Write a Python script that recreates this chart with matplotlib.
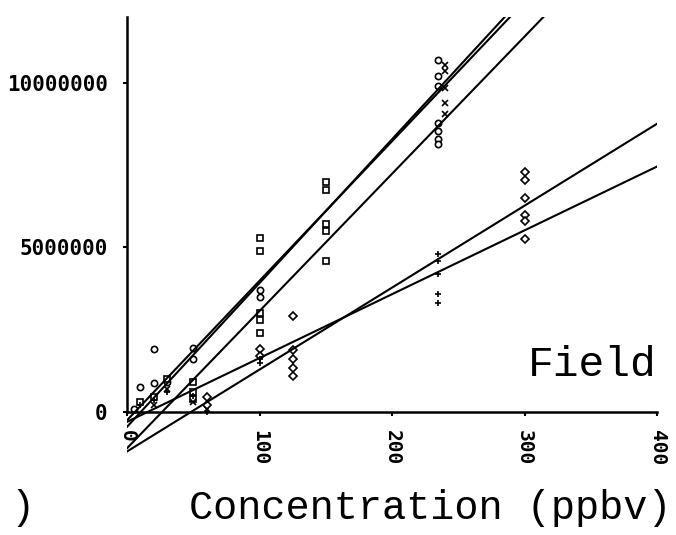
import matplotlib
matplotlib.use('Agg')
import matplotlib.pyplot as plt
import numpy as np

# data (y in counts)
x_circ = [5, 10, 20, 20, 30, 50, 50, 100, 100, 235, 235, 235, 235, 235, 235, 235]
y_circ = [0.1, 0.75, 0.87, 1.9, 0.9, 1.95, 1.6, 3.7, 3.5,
          10.7, 10.2, 9.9, 8.78, 8.54, 8.3, 8.15]

x_sq = [10, 20, 30, 50, 50, 50, 100, 100, 100, 100, 100, 150, 150, 150, 150, 150]
y_sq = [0.3, 0.45, 1.0, 0.9, 0.6, 0.4, 5.3, 4.9, 3.0, 2.8, 2.4, 7.0, 6.75, 5.7, 5.5, 4.6]

x_x = [20, 30, 50, 60, 240, 240, 240, 240, 240]
y_x = [0.2, 0.7, 0.3, 0.1, 10.55, 10.35, 9.85, 9.4, 9.05]

x_dia = [60, 60, 100, 100, 125, 125, 125, 125, 125, 300, 300, 300, 300, 300, 300]
y_dia = [0.45, 0.2, 1.9, 1.7, 2.93, 1.87, 1.6, 1.35, 1.1, 7.3, 7.05, 6.5, 6.0, 5.8, 5.26]

x_plus = [10, 20, 30, 50, 60, 100, 100, 235, 235, 235, 235, 235]
y_plus = [0.2, 0.35, 0.6, 0.5, 0.0, 1.6, 1.5, 4.8, 4.6, 4.2, 3.6, 3.3]

# fitted lines (intercept, slope per ppbv), in millions
fit_b = [-0.45, -0.25, -1.1, -1.2, -0.3]
fit_m = [0.0437, 0.0424, 0.0417, 0.0249, 0.0194]

xticks = [0, 100, 200, 300, 400]
yticks = [0, 5000000, 10000000]

M = 1e6

fig = plt.figure(figsize=(6.76, 5.35), dpi=100)
ax = fig.add_axes([0.188, 0.150, 0.784, 0.818])

mk = dict(color='k', mfc='white', mec='k', mew=1.2, ls='none', ms=4.5)
ax.plot(x_circ, np.array(y_circ) * M, marker='o', **mk)
ax.plot(x_sq, np.array(y_sq) * M, marker='s', **mk)
ax.plot(x_x, np.array(y_x) * M, marker='x', **mk)
ax.plot(x_dia, np.array(y_dia) * M, marker='D', **dict(mk, ms=4))
ax.plot(x_plus, np.array(y_plus) * M, marker='+', **mk)

xx = np.array([0, 400])
for b, m in zip(fit_b, fit_m):
    ax.plot(xx, (b + m * xx) * M, color='k', lw=1.5)

ax.set_xlim(0, 400)
ax.set_ylim(-1.3e6, 12e6)

ax.spines['top'].set_visible(False)
ax.spines['right'].set_visible(False)
ax.spines['bottom'].set_position(('data', 0))
ax.spines['left'].set_bounds(0, 12e6)
for s in ['left', 'bottom']:
    ax.spines[s].set_linewidth(1.8)

ax.set_xticks(xticks)
ax.set_xticklabels([str(t) for t in xticks], rotation=-90,
                   family='DejaVu Sans Mono', fontweight='bold', fontsize=14)
ax.set_yticks(yticks)
ax.set_yticklabels([str(t) for t in yticks],
                   family='DejaVu Sans Mono', fontweight='bold', fontsize=15)
ax.tick_params(direction='out', length=3, width=1.5)
ax.tick_params(axis='x', pad=10)
ax.tick_params(axis='y', pad=11)

fig.text(0.636, 0.05, 'Concentration (ppbv)', ha='center', va='center',
         family='Liberation Mono', fontsize=29)
fig.text(0.015, 0.05, ')', ha='left', va='center',
         family='Liberation Mono', fontsize=29)
ax.text(1.0, 0.205, 'Field', transform=ax.transAxes, ha='right', va='center',
        family='Liberation Mono', fontsize=31)

fig.savefig('out.png', dpi=100)
